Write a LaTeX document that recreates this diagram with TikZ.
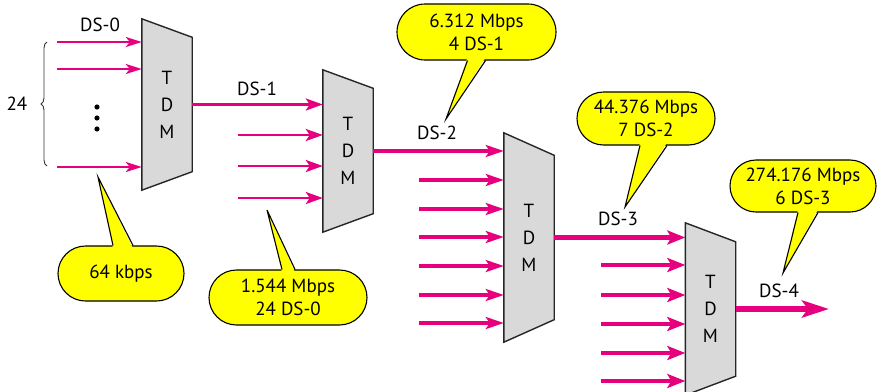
\documentclass[tikz,border=0pt]{standalone}
\usepackage{fontspec}
\setmainfont{PT Sans}
\usetikzlibrary{arrows.meta,calc,shapes.misc,backgrounds,decorations.pathreplacing}
\definecolor{dsline}{RGB}{230,0,126}
\definecolor{tdmgray}{RGB}{217,217,217}
\definecolor{bubbleyellow}{RGB}{255,255,0}
\tikzset{
  tdm/.style={minimum width=50pt, minimum height=#1, inner sep=0pt, align=center,
    font=\fontsize{19}{27}\selectfont},
  tdm shape/.style={fill=tdmgray, draw=black!85, line width=1.4pt, line join=miter},
  bubble/.style={rounded rectangle, fill=bubbleyellow, draw=black, line width=1.1pt,
    inner sep=0pt, align=center, font=\fontsize{19}{23}\selectfont},
  bubble edge/.style={draw=black, line width=1.1pt, line join=miter},
  dstext/.style={font=\fontsize{19}{23}\selectfont, inner sep=0pt},
  ds0/.style={draw=dsline, line width=2pt, -{Stealth[length=16pt, width=10pt, inset=4pt]}},
  ds1/.style={draw=dsline, line width=2.8pt, -{Stealth[length=17pt, width=12pt, inset=4pt]}},
  ds2/.style={draw=dsline, line width=3.3pt, -{Stealth[length=18pt, width=12pt, inset=4pt]}},
  ds3/.style={draw=dsline, line width=4.2pt, -{Stealth[length=18pt, width=14pt, inset=4pt]}},
  ds4/.style={draw=dsline, line width=5.5pt, -{Stealth[length=27pt, width=17pt, inset=6pt]}},
}
\begin{document}
\begin{tikzpicture}[x=1pt, y=-1pt]
    \useasboundingbox (0,0) rectangle (878,391);

    % multiplexers
    \node[tdm=171] (muxA) at (167,104.5) {T\\D\\M};
    \node[tdm=162] (muxB) at (348,151) {T\\D\\M};
    \node[tdm=209] (muxC) at (529,237.5) {T\\D\\M};
    \node[tdm=172] (muxD) at (710.5,309) {T\\D\\M};
    \begin{pgfonlayer}{background}
        \foreach \m/\d in {muxA/18.5, muxB/18.5, muxC/22.5, muxD/19}
            \draw[tdm shape] (\m.north west) -- ([yshift=-\d pt]\m.north east)
                -- ([yshift=\d pt]\m.south east) -- (\m.south west) -- cycle;
    \end{pgfonlayer}

    % DS-0 inputs
    \foreach \y in {42,69,167} {
        \coordinate (s) at (57,\y);
        \draw[ds0] (s) -- (s -| muxA.west);
    }
    \foreach \y in {107,118,129}
        \fill (97,\y) circle (2.6pt);
    \draw[line width=0.9pt, black!80, decorate, decoration={brace, amplitude=6pt}] (47,166) -- (47,42);
    \node[dstext] (n24) at (17,104) {24};
    \node[dstext] (ds0) at (100,25) {DS-0};

    % DS-1
    \draw[ds1] (muxA.east) -- (muxA.east -| muxB.west);
    \foreach \y in {135,166,198} {
        \coordinate (s) at (238,\y);
        \draw[ds1] (s) -- (s -| muxB.west);
    }
    \node[dstext] (ds1) at (257,89) {DS-1};

    % DS-2
    \draw[ds2] (muxB.east) -- (muxB.east -| muxC.west);
    \foreach \y in {180,209,237,266,295,323} {
        \coordinate (s) at (419,\y);
        \draw[ds2] (s) -- (s -| muxC.west);
    }
    \node[dstext] (ds2) at (437,133) {DS-2};

    % DS-3
    \draw[ds3] (muxC.east) -- (muxC.east -| muxD.west);
    \foreach \y in {265,295,324,353,381} {
        \coordinate (s) at (601,\y);
        \draw[ds3] (s) -- (s -| muxD.west);
    }
    \node[dstext] (ds3) at (618,219) {DS-3};

    % DS-4
    \coordinate (out4) at (829,309);
    \draw[ds4] (muxD.east) -- (out4);
    \node[dstext] (ds4) at (779,291) {DS-4};

    % rate bubbles
    \node[bubble, minimum width=126pt, minimum height=55pt] (r64) at (121,273.5) {64 kbps};
    \coordinate (t64) at (98,177);
    \fill[bubbleyellow] ($(r64.north)+(-8,3)$) -- (t64) -- ($(r64.north)+(12,3)$) -- cycle;
    \draw[bubble edge] ($(r64.north)+(-8,0)$) -- (t64) -- ($(r64.north)+(12,0)$);

    \node[bubble, minimum width=158pt, minimum height=55pt] (r1) at (288,297.5) {1.544 Mbps\\24 DS-0};
    \coordinate (t1) at (267,210);
    \fill[bubbleyellow] ($(r1.north)+(-6,3)$) -- (t1) -- ($(r1.north)+(7,3)$) -- cycle;
    \draw[bubble edge] ($(r1.north)+(-6,0)$) -- (t1) -- ($(r1.north)+(7,0)$);

    \node[bubble, minimum width=159pt, minimum height=56pt] (r2) at (476.5,32) {6.312 Mbps\\4 DS-1};
    \coordinate (t2) at (446,119);
    \fill[bubbleyellow] ($(r2.south)+(-9,-3)$) -- (t2) -- ($(r2.south)+(9,-3)$) -- cycle;
    \draw[bubble edge] ($(r2.south)+(-9,0)$) -- (t2) -- ($(r2.south)+(9,0)$);

    \node[bubble, minimum width=138pt, minimum height=53pt] (r3) at (646,118.5) {44.376 Mbps\\7 DS-2};
    \coordinate (t3) at (625,207);
    \fill[bubbleyellow] ($(r3.south)+(-6,-3)$) -- (t3) -- ($(r3.south)+(21,-3)$) -- cycle;
    \draw[bubble edge] ($(r3.south)+(-6,0)$) -- (t3) -- ($(r3.south)+(21,0)$);

    \node[bubble, minimum width=146pt, minimum height=52pt] (r4) at (803,186) {274.176 Mbps\\6 DS-3};
    \coordinate (t4) at (783,273);
    \fill[bubbleyellow] ($(r4.south)+(-5,-3)$) -- (t4) -- ($(r4.south)+(15,-3)$) -- cycle;
    \draw[bubble edge] ($(r4.south)+(-5,0)$) -- (t4) -- ($(r4.south)+(15,0)$);
\end{tikzpicture}
\end{document}
